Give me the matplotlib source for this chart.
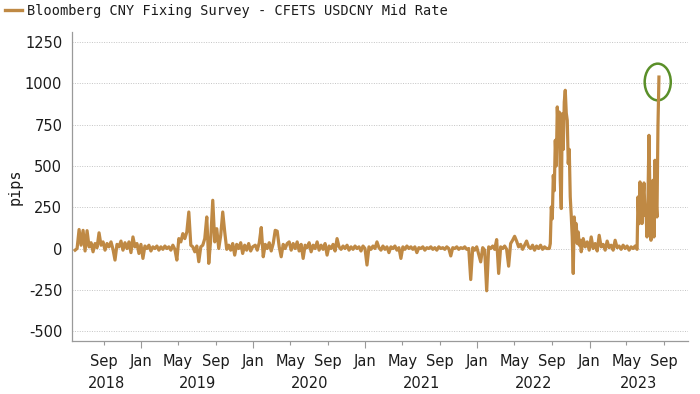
"""Bloomberg CNY fixing survey minus CFETS USDCNY mid rate, in pips."""
import matplotlib
matplotlib.use("Agg")
import matplotlib.dates as mdates
import matplotlib.pyplot as plt
import matplotlib.transforms as mtransforms
import numpy as np
import pandas as pd
from matplotlib.patches import Ellipse

LINE = "#bf8944"
RING = "#5a8f29"
TEXT = "#1c1c1c"

SERIES_LABEL = "Bloomberg CNY Fixing Survey - CFETS USDCNY Mid Rate"
Y_TICKS = [-500, -250, 0, 250, 500, 750, 1000, 1250]
YEARS = [2018, 2019, 2020, 2021, 2022, 2023]

SEG1_START, SEG1_STEP = "2018-05-31", 6.5
SEG1 = [
    -10, 0, 115, 20, 110, -15, 108, 10, 35, -20,
    30, 5, 95, 20, 40, -10, 30, 10, 40, -5,
    -70, 25, 10, 45, -10, 35, 0, 40, -25, 70,
    10, 30, -30, 25, -60, 15, 0, 20, -15, 10,
    0, 15, -10, 10, -5, 15, 0, 10, -10, 20,
    -5, -70, 60, 40, 90, 60, 100, 221, 20, 10,
    -20, 15, -80, 10, 20, 60, 191, -90, 60, 292,
    40, 120, 0, 80, 221, 100, -5, 20, -10, 30,
    -40, 25, 0, 35, -30, 20, -10, 30, -15, 10,
]

SEG2_START, SEG2_STEP = "2020-01-08", 6.5
SEG2 = [
    20, -10, 35, 127, -50, 25, 0, 35, -15, 30,
    110, 105, 10, -50, 25, 0, 30, 40, -10, 30,
    0, 40, -15, 25, -60, 20, 5, 35, -20, 20,
    0, 40, -10, 20, -5, 30, -40, 15, 0, 25,
    -15, 60, 10, -5, 15, 0, 20, -10, 10, -5,
    15, 0, 10, -15, 15, 0, -100, 10, -5, 15,
    0, 40, 5, -10, 15, -5, 10, -25, 10, 0,
    15, -10, 5, -60, 10, -5, 15, 0, 10, -5,
    10, -25, 5, 0, 10, -10, 5, 0, 10, -5,
    5, -10, 10, 0, 5, -5, 10, 0, -45, 5,
    0, 10, -5, 5, 0, 10, -5, 0, -188, 5,
    -10, 10, -35, -81, 5, -10, -256, 10, 0, 15,
    -5, 54, -151, 10, 0, 15, -5, -107, 30, 50,
    74, 45, 10, 25, -5, 20, 45, 10, 0, 20,
    -10, 15, 0, 20, -5, 10, 0,
]

SEG3_START, SEG3_STEP = "2022-08-23", 3.25
SEG3 = [
    0, 30, 252, 180, 443, 350, 655, 500, 857, 700,
    826, 413, 242, 816, 600, 887, 958, 820, 776, 514,
    600, 312, 200, 70, -151, 191, 111, 150, 30, 100,
    20, 50,
]

SEG4_START, SEG4_STEP = "2022-12-05", 6.5
SEG4 = [
    -20, 60, 10, 40, -10, 70, 0, 30, -15, 80,
    10, 25, -10, 45, 5, 20, -10, 50, 5, 15,
    -5, 20, 0, 15, -10, 10, 0, 15, -5,
]

SEG5_START, SEG5_STEP = "2023-06-08", 3.25
SEG5 = [
    312, 150, 403, 250, 151, 300, 397, 200, 232, 70,
    300, 685, 300, 50, 200, 413, 70, 534, 300, 191,
    736, 1038,
]

SEGMENTS = [
    (SEG1_START, SEG1_STEP, SEG1),
    (SEG2_START, SEG2_STEP, SEG2),
    (SEG3_START, SEG3_STEP, SEG3),
    (SEG4_START, SEG4_STEP, SEG4),
    (SEG5_START, SEG5_STEP, SEG5),
]


def build_series():
    dates, vals = [], []
    for start, step, values in SEGMENTS:
        offs = pd.to_timedelta(np.arange(len(values)) * step, unit="D")
        dates.extend(pd.Timestamp(start) + offs)
        vals.extend(values)
    return pd.Series(vals, index=pd.DatetimeIndex(dates))


series = build_series()

plt.rcParams["font.family"] = "DejaVu Sans"
fig = plt.figure(figsize=(7.0, 3.94), dpi=100)
ax = fig.add_axes([0.1029, 0.1345, 0.88, 0.784])

ax.plot(series.index, series.values, color=LINE, linewidth=2.3,
        solid_joinstyle="round")

x0, x1 = pd.Timestamp("2018-05-21"), pd.Timestamp("2023-11-18")
ax.set_xlim(x0, x1)
ax.set_ylim(-560, 1310)

ax.set_yticks(Y_TICKS)
ax.set_yticklabels([str(v) for v in Y_TICKS])
ax.tick_params(axis="y", length=0, pad=7, labelsize=10.5, labelcolor=TEXT)
ax.yaxis.grid(True, linestyle=(0, (1, 1.5)), color="#c4c4c4", linewidth=0.7)
ax.set_axisbelow(True)

ax.xaxis.set_major_locator(mdates.MonthLocator(bymonth=[1]))
ax.xaxis.set_major_formatter(mdates.DateFormatter("%b"))
ax.xaxis.set_minor_locator(mdates.MonthLocator(bymonth=[5, 9]))
ax.xaxis.set_minor_formatter(mdates.DateFormatter("%b"))
ax.tick_params(axis="x", which="major", length=5, width=0.8, color="#999999",
               pad=4, labelsize=10.5, labelcolor=TEXT)
ax.tick_params(axis="x", which="minor", length=3, width=0.8, color="#999999",
               pad=6, labelsize=10.5, labelcolor=TEXT)

for side in ("top", "right"):
    ax.spines[side].set_visible(False)
for side in ("left", "bottom"):
    ax.spines[side].set_color("#9a9a9a")
    ax.spines[side].set_linewidth(0.9)

# year labels centred under the visible part of each year
trans = mtransforms.blended_transform_factory(ax.transData, ax.transAxes)
for yr in YEARS:
    a = max(pd.Timestamp(f"{yr}-01-01"), x0)
    b = min(pd.Timestamp(f"{yr + 1}-01-01"), x1)
    mid = a + (b - a) / 2
    ax.text(mdates.date2num(mid), -0.136, str(yr), transform=trans,
            ha="center", va="center", fontsize=10.5, color=TEXT)

ax.set_ylabel("pips", family="DejaVu Sans Mono", fontsize=11, color=TEXT,
              labelpad=2)

# legend row above the plot
fig.add_artist(plt.Line2D([5 / 700, 22 / 700], [1 - 10 / 394, 1 - 10 / 394],
                          color=LINE, linewidth=2.4, transform=fig.transFigure))
fig.text(27 / 700, 1 - 10.5 / 394, SERIES_LABEL, family="DejaVu Sans Mono",
         fontsize=9.8, color=TEXT, ha="left", va="center")

# ring around the latest reading
last_date, last_val = series.index[-1], series.values[-1]
ring = Ellipse((mdates.date2num(last_date - pd.Timedelta(days=4)), last_val - 30),
               width=85, height=222, fill=False, edgecolor=RING, linewidth=1.8)
ax.add_patch(ring)

fig.savefig("out.png", dpi=100)
